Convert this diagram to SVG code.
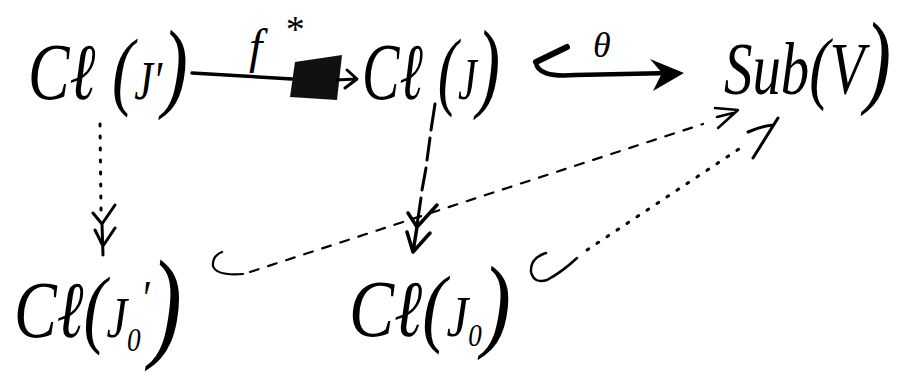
<svg xmlns="http://www.w3.org/2000/svg" width="908" height="381" viewBox="0 0 908 381">
<style>
.t{font-family:"Liberation Serif","DejaVu Serif",serif;font-style:italic;fill:#000}
.ln{fill:none;stroke:#000;stroke-linecap:round;stroke-linejoin:round}
.dash{stroke-dasharray:9 10;stroke-width:2.2}
.dot{stroke-dasharray:2 10;stroke-width:3}
</style>
<rect width="908" height="381" fill="#fff"/>
<g id="connectors">
  <!-- f* arrow -->
  <path class="ln" d="M192,73 L292,79" stroke-width="3.5"/>
  <path d="M295,62 L342,55 L337,100 L290,97 Z" fill="#111"/>
  <path class="ln" d="M336,80 L356,79 M347,70 L357,79 L345,88" stroke-width="3"/>
  <!-- theta double arrow -->
  <path class="ln" d="M567,47 L536,62" stroke-width="6"/>
  <path class="ln" d="M536,62 Q537,78 575,75 L672,73" stroke-width="4.5"/>
  <path d="M650,59 L684,73 L653,91 L662,73 Z" fill="#000"/>
  <!-- Cl(J') to Cl(J0') -->
  <path class="ln dot" d="M100,124 L101,210"/>
  <path class="ln" d="M93,213 L102,224 L115,205 M95,230 L103,246 L115,228 M102,224 L103,255" stroke-width="3"/>
  <!-- Cl(J) to Cl(J0) -->
  <path class="ln" d="M435,104 L431,130 M430,138 L427,160 M426,168 L422,190 M421,198 L417,225" stroke-width="3"/>
  <path class="ln" d="M408,213 L417,227 L437,205 M407,232 L413,252 L430,233 M417,227 L413,252" stroke-width="3.5"/>
  <!-- Cl(J0') hook dashed to Sub(V) -->
  <path class="ln" d="M222,252 Q212,256 213,266 Q216,276 243,274" stroke-width="2.2"/>
  <path class="ln dash" d="M250,272 L703,124"/>
  <path class="ln" d="M715,108 L738,110 L718,128 M717,117 L733,113" stroke-width="2.5"/>
  <!-- Cl(J0) hook dotted to Sub(V) -->
  <path class="ln" d="M546,253 Q530,258 531,272 Q534,284 547,280 Q562,272 577,258" stroke-width="2.5"/>
  <path class="ln dot" d="M587,250 L745,145"/>
  <path class="ln" d="M753,158 L778,118 M748,132 Q762,126 773,125" stroke-width="3"/>
</g>
<g id="label-fstar">
  <text class="t" x="249" y="63" font-size="48">f</text>
  <text class="t" x="284" y="42" font-size="38">*</text>
</g>
<g id="label-theta">
  <text class="t" x="593" y="57" font-size="36">θ</text>
</g>
<g id="node-ClJp">
  <text class="t" x="28" y="99" textLength="160" lengthAdjust="spacingAndGlyphs"><tspan font-size="80">Cℓ</tspan><tspan font-size="86"> (</tspan><tspan font-size="54">J′</tspan><tspan font-size="100">)</tspan></text>
</g>
<g id="node-ClJ">
  <text class="t" x="362" y="99" textLength="138" lengthAdjust="spacingAndGlyphs"><tspan font-size="80">Cℓ</tspan><tspan font-size="86"> (</tspan><tspan font-size="60">J</tspan><tspan font-size="100">)</tspan></text>
</g>
<g id="node-SubV">
  <text class="t" x="724" y="94" textLength="167" lengthAdjust="spacingAndGlyphs"><tspan font-size="74">Sub</tspan><tspan font-size="80">(</tspan><tspan font-size="74">V</tspan><tspan font-size="104">)</tspan></text>
</g>
<g id="node-ClJ0p">
  <text class="t" x="14" y="337" textLength="168" lengthAdjust="spacingAndGlyphs"><tspan font-size="80">Cℓ</tspan><tspan font-size="86">(</tspan><tspan font-size="58">J</tspan><tspan font-size="34" dy="14">0</tspan><tspan font-size="50" dy="-36">′</tspan><tspan font-size="122" dy="30">)</tspan></text>
</g>
<g id="node-ClJ0">
  <text class="t" x="349" y="336" textLength="162" lengthAdjust="spacingAndGlyphs"><tspan font-size="80">Cℓ</tspan><tspan font-size="86">(</tspan><tspan font-size="58">J</tspan><tspan font-size="32" dy="10">0</tspan><tspan font-size="104" dy="-8">)</tspan></text>
</g>
</svg>
